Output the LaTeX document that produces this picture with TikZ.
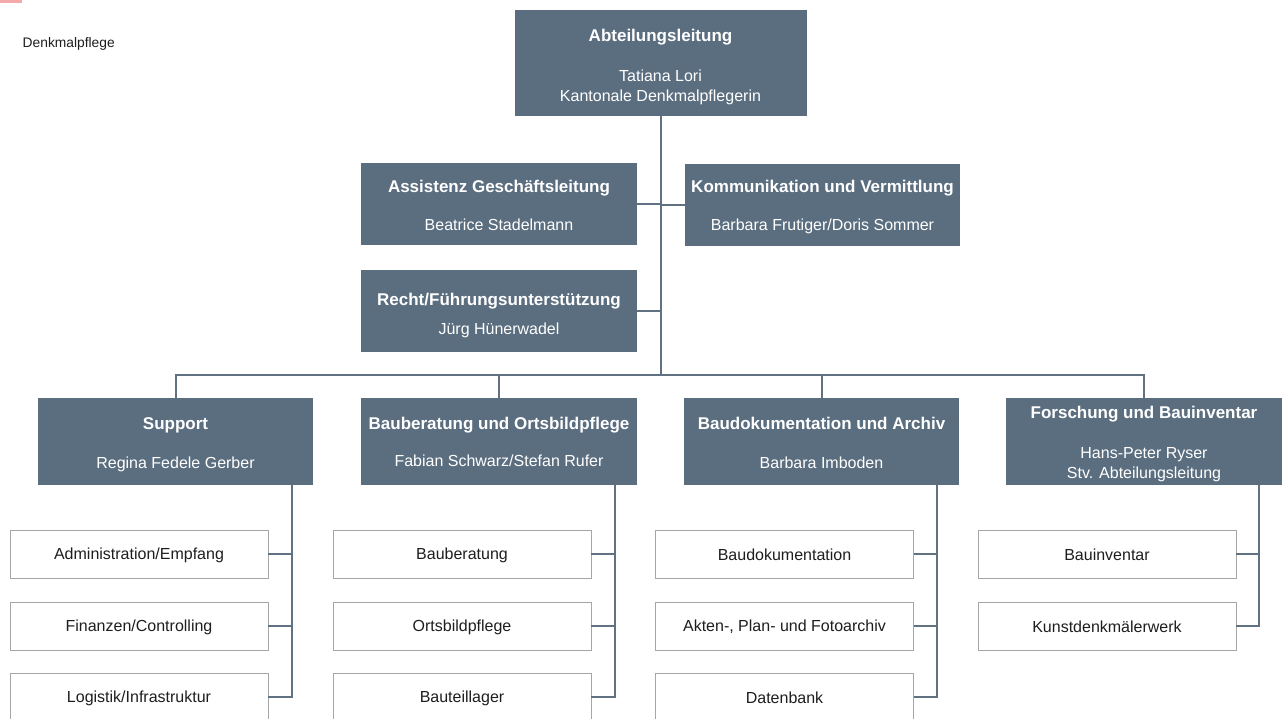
\documentclass[tikz,border=0pt]{standalone}
\usepackage{fontspec}
\setmainfont{Liberation Sans}
\definecolor{boxc}{RGB}{91,110,128}
\definecolor{linec}{RGB}{96,113,130}
\definecolor{txtc}{RGB}{30,30,30}
\definecolor{markc}{RGB}{244,170,170}
\newcommand\hd[1]{{\fontsize{17}{20}\selectfont\bfseries #1}}
% #1 shift down, #2 title, #3 gap, #4 names
\newcommand\mgtext[4]{\raisebox{-#1}[\height][\depth]{\begin{tabular}{@{}c@{}}\hd{#2}\\[#3]#4\end{tabular}}}
\newcommand\sbt[1]{\raisebox{-1pt}[\height][\depth]{#1}}
\begin{document}
\begin{tikzpicture}[x=1pt,y=-1pt,
  mgr/.style={fill=boxc, text=white, inner sep=0pt, align=center,
    font=\fontsize{16}{20}\selectfont},
  sub/.style={draw=black!35, line width=0.8pt, fill=white, text=txtc, inner sep=0pt,
    minimum width=258pt, minimum height=48pt, font=\fontsize{16}{20}\selectfont},
  conn/.style={draw=linec, line width=2pt}]
\useasboundingbox (0,0) rectangle (1288,718);
\clip (0,0) rectangle (1288,718);
\fill[white] (0,0) rectangle (1288,718);
\fill[markc] (0,0) rectangle (22,2.5);
\node[anchor=west, inner sep=0pt, text=txtc, font=\fontsize{13.8}{16}\selectfont] (title) at (22.5,43.5) {Denkmalpflege};

% managers
\node[mgr, minimum width=292pt, minimum height=106pt] (top) at (660.5,63)
  {\mgtext{4pt}{Abteilungsleitung}{20pt}{Tatiana Lori\\Kantonale Denkmalpflegerin}};
\node[mgr, minimum width=276pt, minimum height=82pt] (assist) at (499,204)
  {\mgtext{3pt}{Assistenz Geschäftsleitung}{18pt}{Beatrice Stadelmann}};
\node[mgr, minimum width=275pt, minimum height=82pt] (komm) at (822.5,205)
  {\mgtext{2.5pt}{Kommunikation und Vermittlung}{18pt}{Barbara Frutiger/Doris Sommer}};
\node[mgr, minimum width=276pt, minimum height=82pt] (recht) at (499,311)
  {\mgtext{5pt}{Recht/Führungsunterstützung}{9pt}{Jürg Hünerwadel}};
\node[mgr, minimum width=275pt, minimum height=87pt] (support) at (175.5,441.5)
  {\mgtext{3pt}{Support}{19pt}{Regina Fedele Gerber}};
\node[mgr, minimum width=276pt, minimum height=87pt] (baub) at (499,441.5)
  {\mgtext{2pt}{Bauberatung und Ortsbildpflege}{17pt}{Fabian Schwarz/Stefan Rufer}};
\node[mgr, minimum width=275pt, minimum height=87pt] (baudok) at (821.5,441.5)
  {\mgtext{3pt}{Baudokumentation und Archiv}{19pt}{Barbara Imboden}};
\node[mgr, minimum width=276pt, minimum height=87pt] (forsch) at (1144,441.5)
  {\mgtext{2.5pt}{Forschung und Bauinventar}{20pt}{Hans-Peter Ryser\\Stv. Abteilungsleitung}};

% sub units
\node[sub] (s11) at (139,554) {\sbt{Administration/Empfang}};
\node[sub] (s12) at (139,626) {\sbt{Finanzen/Controlling}};
\node[sub] (s13) at (139,697) {\sbt{Logistik/Infrastruktur}};
\node[sub] (s21) at (462,554) {\sbt{Bauberatung}};
\node[sub] (s22) at (462,626) {\sbt{Ortsbildpflege}};
\node[sub] (s23) at (462,697) {\sbt{Bauteillager}};
\node[sub] (s31) at (784.5,554) {\sbt{Baudokumentation}};
\node[sub] (s32) at (784.5,626) {\sbt{Akten-, Plan- und Fotoarchiv}};
\node[sub] (s33) at (784.5,697) {\sbt{Datenbank}};
\node[sub] (s41) at (1107,554) {\sbt{Bauinventar}};
\node[sub] (s42) at (1107,626) {\sbt{Kunstdenkmälerwerk}};

% connectors
\coordinate (j) at (660.5,375);
\coordinate (v1) at (292,485);
\coordinate (v2) at (615,485);
\coordinate (v3) at (937,485);
\coordinate (v4) at (1259,485);
\draw[conn] (top.south) -- (j);
\draw[conn] (support.north) -- (support.north |- j) -- (forsch.north |- j) -- (forsch.north);
\draw[conn] (baub.north) -- (baub.north |- j);
\draw[conn] (baudok.north) -- (baudok.north |- j);
\draw[conn] (assist.east) -- (assist.east -| j);
\draw[conn] (komm.west) -- (komm.west -| j);
\draw[conn] (recht.east) -- (recht.east -| j);

\draw[conn] (v1) |- (s13.east);
\draw[conn] (s11.east) -- (s11.east -| v1);
\draw[conn] (s12.east) -- (s12.east -| v1);
\draw[conn] (v2) |- (s23.east);
\draw[conn] (s21.east) -- (s21.east -| v2);
\draw[conn] (s22.east) -- (s22.east -| v2);
\draw[conn] (v3) |- (s33.east);
\draw[conn] (s31.east) -- (s31.east -| v3);
\draw[conn] (s32.east) -- (s32.east -| v3);
\draw[conn] (v4) |- (s42.east);
\draw[conn] (s41.east) -- (s41.east -| v4);
\end{tikzpicture}
\end{document}
